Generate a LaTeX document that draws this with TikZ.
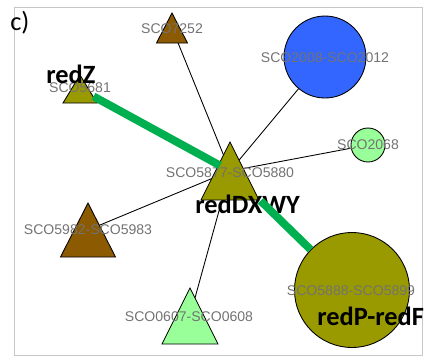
\documentclass[tikz,border=0pt]{standalone}
\usepackage{fontspec}
\setmainfont{Liberation Sans}
\newfontfamily\calibri{Carlito}
\usepackage{tikz}
\usetikzlibrary{calc,backgrounds}
\definecolor{genebrown}{RGB}{140,90,0}
\definecolor{geneolive}{RGB}{153,153,0}
\definecolor{geneblue}{RGB}{51,102,255}
\definecolor{genelight}{RGB}{153,255,153}
\definecolor{edgegreen}{RGB}{0,176,80}

\begin{document}
\begin{tikzpicture}[x=0.02cm,y=-0.02cm,
  genelabel/.style={text=black!55,font=\fontsize{8}{8}\selectfont,inner sep=0pt},
  redlabel/.style={font=\calibri\bfseries\fontsize{15}{15}\selectfont,inner sep=0pt,anchor=base west},
  genecircle/.style={circle,draw,line width=0.5pt,inner sep=0pt}]
\newcommand{\trinode}[6]{\filldraw[fill=#6,line width=0.5pt] (#2,#3-#5/2) -- ++(#4/2,#5) -- ++(-#4,0) -- cycle;
  \node[inner sep=0pt] (#1) at (#2,#3) {};}
\useasboundingbox (0,0) rectangle (430,356);
{ \foreach \nm/\x/\y/\w/\h/\col in {n7252/172/28/31/30/genebrown,n5681/80/89/34/28/geneolive,
    n5877/230/171/58/58/geneolive,n5982/88/230/55/54/genebrown,n0607/190/316/56/56/genelight}
  {\trinode{\nm}{\x}{\y}{\w}{\h}{\col}}}
\node[genecircle,fill=geneblue,minimum size=1.64cm] (n2008) at (325,57) {};
\node[genecircle,fill=genelight,minimum size=0.68cm] (n2068) at (368,145) {};
\node[genecircle,fill=geneolive,minimum size=2.3cm] (n5888) at (352,290) {};
\begin{pgfonlayer}{background}
\draw[black!22] (14,7) rectangle (422,355);
{ \foreach \nb in {n7252,n2008,n2068,n5982,n0607}{\draw[line width=0.5pt] (n5877) -- (\nb);}}
\end{pgfonlayer}
{ \foreach \nm/\x/\y/\txt in {7252/172/29/SCO7252,5681/80/88/SCO5681,5877/230/173/SCO5877-SCO5880,
    2008/325/58/SCO2008-SCO2012,2068/368/145/SCO2068,5982/88/230/SCO5982-SCO5983,
    0607/189/317/SCO0607-SCO0608,5888/351/291/SCO5888-SCO5899}
  {\node[genelabel] (l\nm) at (\x,\y) {\txt};}}
\node[redlabel] (redZ) at (46,83) {redZ};
\node[redlabel] (redDXWY) at (195,213) {redDXWY};
\node[redlabel] (redPF) at (317,325) {redP-redF};
\node[font=\calibri\fontsize{15}{15}\selectfont,inner sep=0pt,anchor=base west] (panel) at (10,30) {c)};
\draw[edgegreen,line width=4.5pt,shorten <=0.28cm,shorten >=0.2cm] (n5681) -- (n5877);
\draw[edgegreen,line width=4.5pt,shorten <=0.82cm] (n5877) -- (n5888);
\end{tikzpicture}
\end{document}
